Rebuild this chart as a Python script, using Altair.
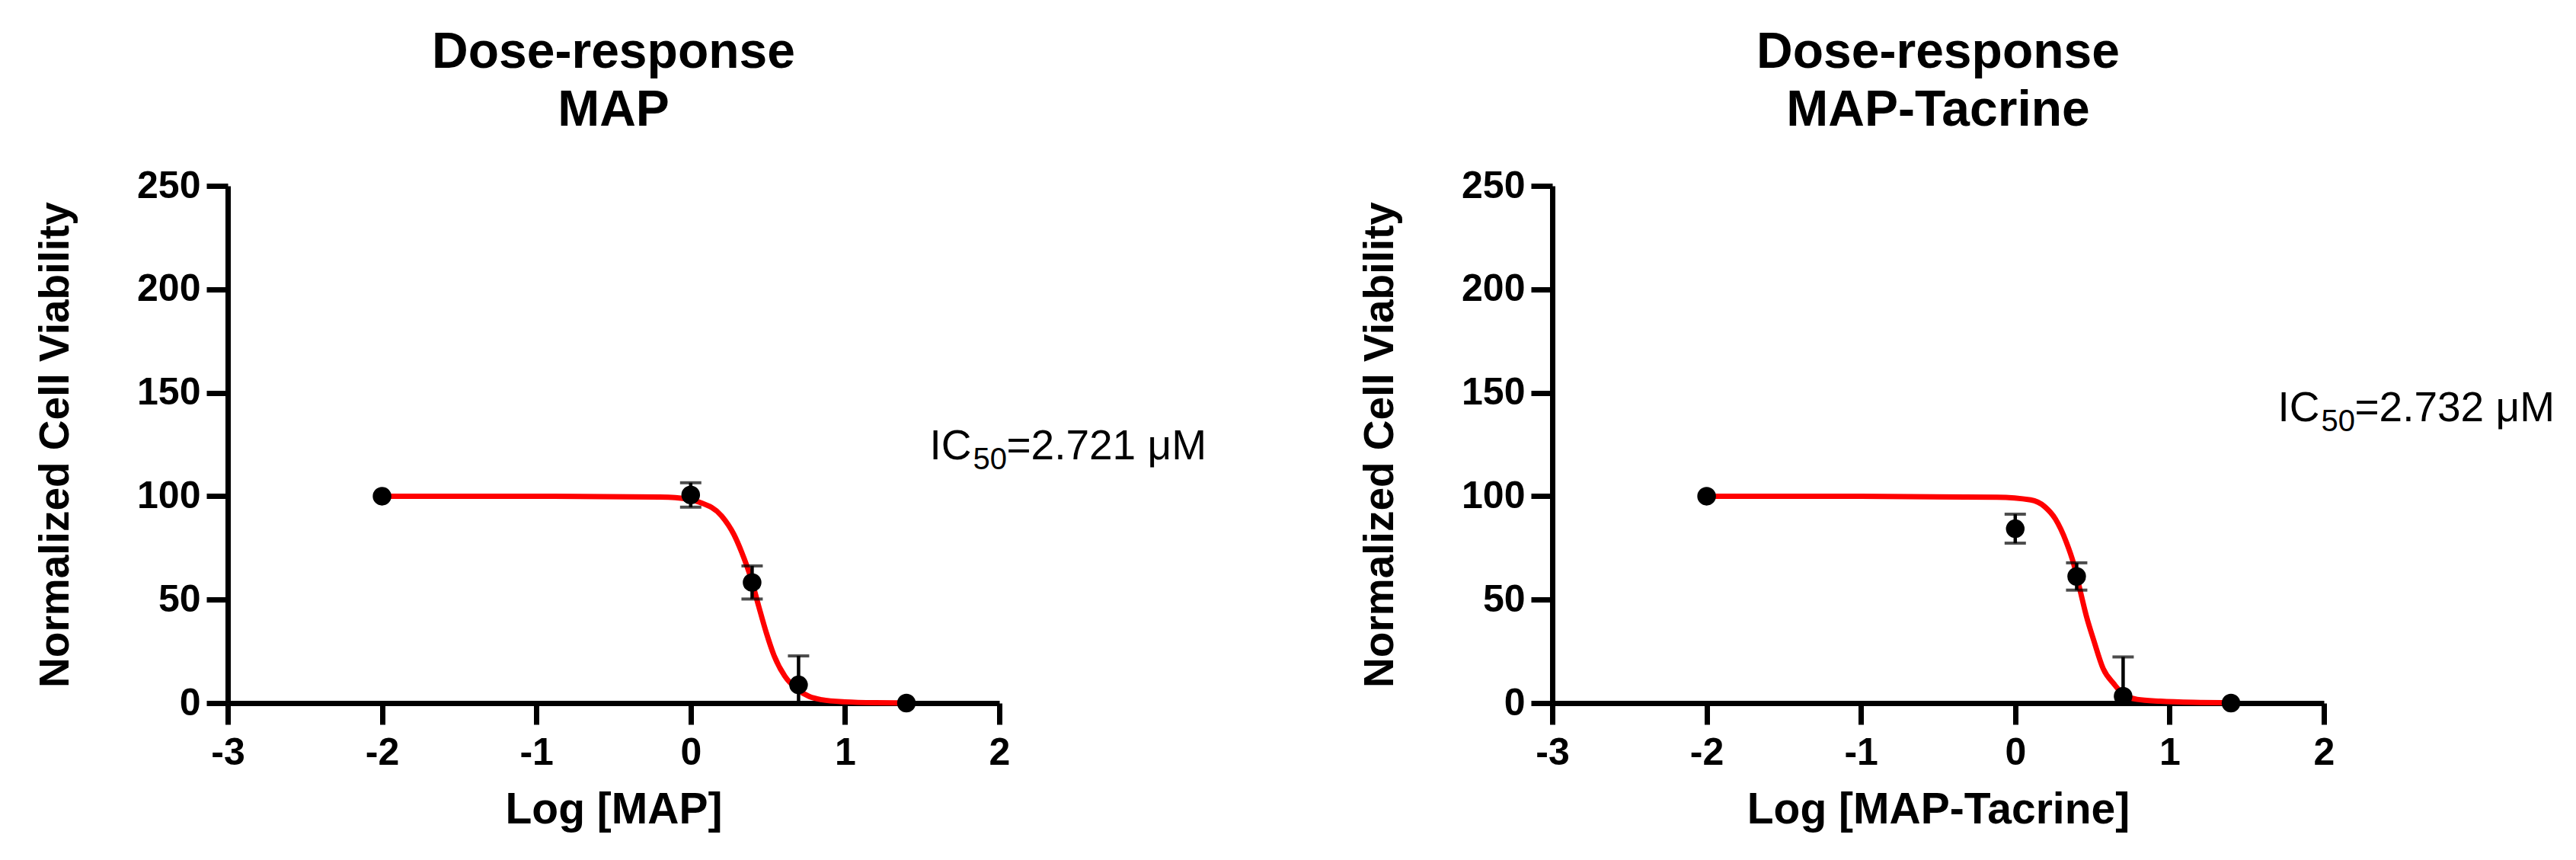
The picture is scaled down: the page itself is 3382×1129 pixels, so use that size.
import altair as alt
import pandas as pd

# log10 of concentration (uM): 0.01, 1, 2.5, 5, 25
log_conc = [-2, 0, 0.398, 0.699, 1.398]

map_mean = [100, 100.6, 58.3, 8.8, 0]
map_sem = [0, 5.9, 8.0, 14.0, 0]
tac_mean = [100, 84.3, 61.2, 3.3, 0]
tac_sem = [0, 7.0, 6.6, 19.0, 0]

# fitted curves
map_fit_x = [-2.0, -1.0, -0.2, -0.1, 0.06, 0.2, 0.28, 0.33, 0.39, 0.44, 0.49,
             0.54, 0.61, 0.69, 0.77, 0.85, 1.0, 1.2, 1.4]
map_fit_y = [100, 100, 99.6, 99.3, 97, 90.5, 81.5, 73, 60.5, 47, 34,
             23, 13, 6.7, 3.1, 1.6, 0.6, 0.2, 0.1]
tac_fit_x = [-2.0, -1.0, -0.12, 0.1, 0.19, 0.26, 0.33, 0.38, 0.42, 0.46, 0.51,
             0.57, 0.64, 0.7, 0.79, 0.94, 1.2, 1.4]
tac_fit_y = [100, 100, 99.5, 98.2, 95, 89, 78, 67, 54.6, 42.3, 30,
             16.6, 9.2, 4.3, 1.8, 0.9, 0.3, 0.1]

x_ticks = [-3, -2, -1, 0, 1, 2]
y_ticks = [0, 50, 100, 150, 200, 250]

FONT = "Liberation Sans, Arial, sans-serif"


def panel(drug, mean, sem, fit_x, fit_y, ic50, label_x, label_y):
    pts = pd.DataFrame({"x": log_conc, "y": mean, "sem": sem})
    pts["lo"] = (pts["y"] - pts["sem"]).clip(lower=0)
    pts["hi"] = pts["y"] + pts["sem"]
    bars = pts[pts["sem"] > 0]
    lo_caps = bars[bars["y"] - bars["sem"] > 0]
    fit = pd.DataFrame({"x": fit_x, "y": fit_y})
    lab = pd.DataFrame({"x": [label_x], "y": [label_y]})

    xs = alt.Scale(domain=[-3, 2], nice=False)
    ys = alt.Scale(domain=[0, 250], nice=False)
    x_axis = alt.Axis(values=x_ticks, labelExpr="'' + datum.value", title=f"Log [{drug}]",
                      labelPadding=12, titleFontSize=57, titlePadding=22)
    y_axis = alt.Axis(values=y_ticks, title="Normalized Cell Viability",
                      labelPadding=8, titleFontSize=55, titlePadding=78)

    def xq(f="x"):
        return alt.X(f"{f}:Q", scale=xs, axis=x_axis)

    def yq(f):
        return alt.Y(f"{f}:Q", scale=ys, axis=y_axis)

    curve = alt.Chart(fit).mark_line(color="#ff0000", strokeWidth=7, interpolate="monotone").encode(
        x=xq(), y=yq("y"))
    stems = alt.Chart(bars).mark_rule(color="black", strokeWidth=4.5).encode(
        x=xq(), y=yq("lo"), y2="hi:Q")
    top_caps = alt.Chart(bars).mark_tick(orient="horizontal", color="black", size=28, thickness=4).encode(
        x=xq(), y=yq("hi"))
    low_caps = alt.Chart(lo_caps).mark_tick(orient="horizontal", color="black", size=28, thickness=4).encode(
        x=xq(), y=yq("lo"))
    dots = alt.Chart(pts).mark_circle(color="black", opacity=1, size=600).encode(
        x=xq(), y=yq("y"))

    ic = alt.Chart(lab).mark_text(text="IC", align="left", baseline="alphabetic",
                                  font=FONT, fontSize=55, color="black").encode(x=xq(), y=yq("y"))
    sub = alt.Chart(lab).mark_text(text="50", align="left", baseline="alphabetic", dx=57, dy=13,
                                   font=FONT, fontSize=40, color="black").encode(x=xq(), y=yq("y"))
    val = alt.Chart(lab).mark_text(text=f"={ic50} μM", align="left", baseline="alphabetic", dx=101,
                                   font=FONT, fontSize=55, color="black").encode(x=xq(), y=yq("y"))

    return alt.layer(curve, stems, top_caps, low_caps, dots, ic, sub, val).properties(
        width=1013,
        height=679,
        title=alt.TitleParams(["Dose-response", drug], font=FONT, fontSize=66, fontWeight="bold",
                              color="black", lineHeight=76, anchor="middle", frame="group", offset=40),
    )


left = panel("MAP", map_mean, map_sem, map_fit_x, map_fit_y, "2.721", 1.548, 117.8)
right = panel("MAP-Tacrine", tac_mean, tac_sem, tac_fit_x, tac_fit_y, "2.732", 1.701, 136.2)

chart = alt.hconcat(left, right, spacing=200).properties(
    padding={"left": 37, "top": 28, "right": 5, "bottom": 5},
    background="white",
).configure_view(stroke=None).configure_axis(
    grid=False,
    domainColor="black", domainWidth=7,
    tickColor="black", tickWidth=7, tickSize=28,
    labelFont=FONT, labelFontSize=50, labelFontWeight="bold", labelColor="black",
    labelFlush=False, labelOverlap=False,
    titleFont=FONT, titleFontWeight="bold", titleColor="black",
)

chart.save("out.html", embed_options={"renderer": "svg", "actions": False})
